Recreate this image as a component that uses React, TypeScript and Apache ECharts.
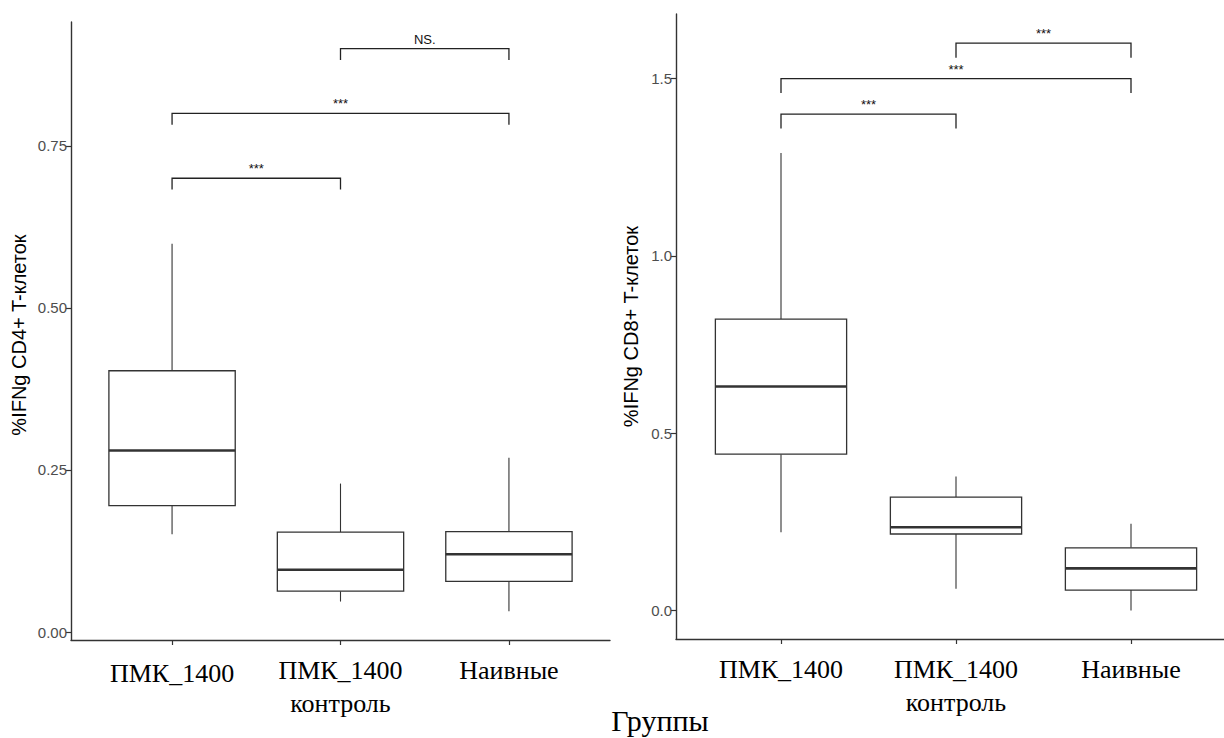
import React, { useEffect, useRef } from "react";
import * as echarts from "echarts";

const categories = ["ПМК_1400", "ПМК_1400\nконтроль", "Наивные"];
const categoryPositions = [1, 2, 3];

// [min, Q1, median, Q3, max]
const cd4Boxes = [
  [0.151, 0.195, 0.28, 0.403, 0.599],
  [0.047, 0.063, 0.096, 0.154, 0.229],
  [0.032, 0.078, 0.12, 0.155, 0.269],
];
const cd8Boxes = [
  [0.221, 0.441, 0.632, 0.822, 1.29],
  [0.062, 0.216, 0.235, 0.32, 0.378],
  [0.0, 0.058, 0.119, 0.177, 0.245],
];

// [from group, to group, bracket height]
const cd4Brackets = [
  [1, 2, 0.7],
  [1, 3, 0.8],
  [2, 3, 0.9],
];
const cd4BracketLabels = ["***", "***", "NS."];
const cd8Brackets = [
  [1, 2, 1.4],
  [1, 3, 1.5],
  [2, 3, 1.6],
];
const cd8BracketLabels = ["***", "***", "***"];

const cd4Ticks = [0, 0.25, 0.5, 0.75];
const cd8Ticks = [0, 0.5, 1.0, 1.5];

const cd4TipLength = 0.0175;
const cd8TipLength = 0.041;

const cd4Title = "%IFNg CD4+ T-клеток";
const cd8Title = "%IFNg CD8+ T-клеток";
const xTitle = "Группы";

const SANS = "Liberation Sans, Arial, sans-serif";
const SERIF = "Liberation Serif, Times New Roman, serif";

function boxRender(params: any, api: any) {
  const x = api.value(0);
  const lo = api.coord([x, api.value(1)]);
  const q1 = api.coord([x, api.value(2)]);
  const med = api.coord([x, api.value(3)]);
  const q3 = api.coord([x, api.value(4)]);
  const hi = api.coord([x, api.value(5)]);
  const half = api.size([0.75, 0])[0] / 2;
  const cx = lo[0];
  const stroke = "#333333";
  return {
    type: "group",
    children: [
      { type: "line", shape: { x1: cx, y1: hi[1], x2: cx, y2: q3[1] }, style: { stroke, lineWidth: 1.1 } },
      { type: "line", shape: { x1: cx, y1: q1[1], x2: cx, y2: lo[1] }, style: { stroke, lineWidth: 1.1 } },
      {
        type: "rect",
        shape: { x: cx - half, y: q3[1], width: half * 2, height: q1[1] - q3[1] },
        style: { fill: "#ffffff", stroke, lineWidth: 1.3 },
      },
      { type: "line", shape: { x1: cx - half, y1: med[1], x2: cx + half, y2: med[1] }, style: { stroke, lineWidth: 2.6 } },
    ],
  };
}

function makeBracketRender(labels: string[], tip: number) {
  return (params: any, api: any) => {
    const x1 = api.value(0);
    const x2 = api.value(1);
    const y = api.value(2);
    const a = api.coord([x1, y - tip]);
    const b = api.coord([x1, y]);
    const c = api.coord([x2, y]);
    const d = api.coord([x2, y - tip]);
    return {
      type: "group",
      children: [
        {
          type: "polyline",
          shape: { points: [a, b, c, d] },
          style: { stroke: "#222222", lineWidth: 1.3, fill: "none" },
        },
        {
          type: "text",
          x: (b[0] + c[0]) / 2,
          y: b[1] - 3,
          style: {
            text: labels[params.dataIndex],
            align: "center",
            verticalAlign: "bottom",
            fontSize: 13,
            fontFamily: SANS,
            fill: "#111111",
          },
        },
      ],
    };
  };
}

export default function App() {
  const ref = useRef<HTMLDivElement>(null);
  useEffect(() => {
    if (!ref.current) return;
    const chart = echarts.init(ref.current, undefined, { renderer: "svg" });

    const xAxisBase = (gridIndex: number, max: number, rich: boolean) => ({
      type: "value",
      gridIndex,
      min: 0.4,
      max,
      splitLine: { show: false },
      axisLine: { show: true, onZero: false, lineStyle: { color: "#333333", width: 1.4 } },
      axisTick: { show: true, customValues: categoryPositions, length: 5, lineStyle: { color: "#333333", width: 1.2 } },
      axisLabel: {
        customValues: categoryPositions,
        margin: 14,
        fontFamily: SERIF,
        fontSize: 26,
        lineHeight: 33,
        color: "#000000",
        formatter: (v: number) => {
          const i = Math.round(v) - 1;
          if (rich && i === 0) return "{low|" + categories[i] + "}";
          return categories[i];
        },
        rich: {
          low: { fontFamily: SERIF, fontSize: 26, lineHeight: 33, color: "#000000", padding: [6, 0, 0, 0] },
        },
      },
    });

    const yAxisBase = (
      gridIndex: number,
      min: number,
      max: number,
      ticks: number[],
      digits: number,
      name: string,
      gap: number,
      shift: number
    ) => ({
      type: "value",
      gridIndex,
      min,
      max,
      name,
      nameLocation: "middle",
      nameRotate: 90,
      nameGap: gap,
      nameTextStyle: { fontFamily: SANS, fontSize: 20, color: "#000000", padding: [0, shift, 0, 0] },
      splitLine: { show: false },
      axisLine: { show: true, onZero: false, lineStyle: { color: "#333333", width: 1.4 } },
      axisTick: { show: true, customValues: ticks, length: 5, lineStyle: { color: "#333333", width: 1.2 } },
      axisLabel: {
        customValues: ticks,
        margin: 4,
        fontFamily: SANS,
        fontSize: 15,
        color: "#4d4d4d",
        formatter: (v: number) => v.toFixed(digits),
      },
    });

    chart.setOption({
      animation: false,
      grid: [
        { left: 71, top: 22, width: 539, height: 618 },
        { left: 676, top: 14, width: 548, height: 625 },
      ],
      xAxis: [xAxisBase(0, 3.6, true), xAxisBase(1, 0.4 + 548 / 175, false)],
      yAxis: [
        yAxisBase(0, -0.0123, 0.941, cd4Ticks, 2, cd4Title, 42, 8),
        yAxisBase(1, -0.08, 1.682, cd8Ticks, 1, cd8Title, 35, 0),
      ],
      graphic: [
        {
          type: "text",
          x: 660,
          y: 705,
          style: {
            text: xTitle,
            align: "center",
            verticalAlign: "top",
            fontFamily: SERIF,
            fontSize: 30,
            fill: "#000000",
          },
        },
      ],
      series: [
        {
          type: "custom",
          xAxisIndex: 0,
          yAxisIndex: 0,
          renderItem: boxRender,
          encode: { x: 0, y: [1, 2, 3, 4, 5] },
          data: cd4Boxes.map((b, i) => [categoryPositions[i], ...b]),
        },
        {
          type: "custom",
          xAxisIndex: 1,
          yAxisIndex: 1,
          renderItem: boxRender,
          encode: { x: 0, y: [1, 2, 3, 4, 5] },
          data: cd8Boxes.map((b, i) => [categoryPositions[i], ...b]),
        },
        {
          type: "custom",
          xAxisIndex: 0,
          yAxisIndex: 0,
          renderItem: makeBracketRender(cd4BracketLabels, cd4TipLength),
          encode: { x: [0, 1], y: 2 },
          data: cd4Brackets,
        },
        {
          type: "custom",
          xAxisIndex: 1,
          yAxisIndex: 1,
          renderItem: makeBracketRender(cd8BracketLabels, cd8TipLength),
          encode: { x: [0, 1], y: 2 },
          data: cd8Brackets,
        },
      ],
    });
    return () => chart.dispose();
  }, []);

  return (
    <div
      ref={ref}
      style={{ position: "fixed", left: 0, top: 0, width: 1224, height: 738, background: "#ffffff" }}
    />
  );
}
